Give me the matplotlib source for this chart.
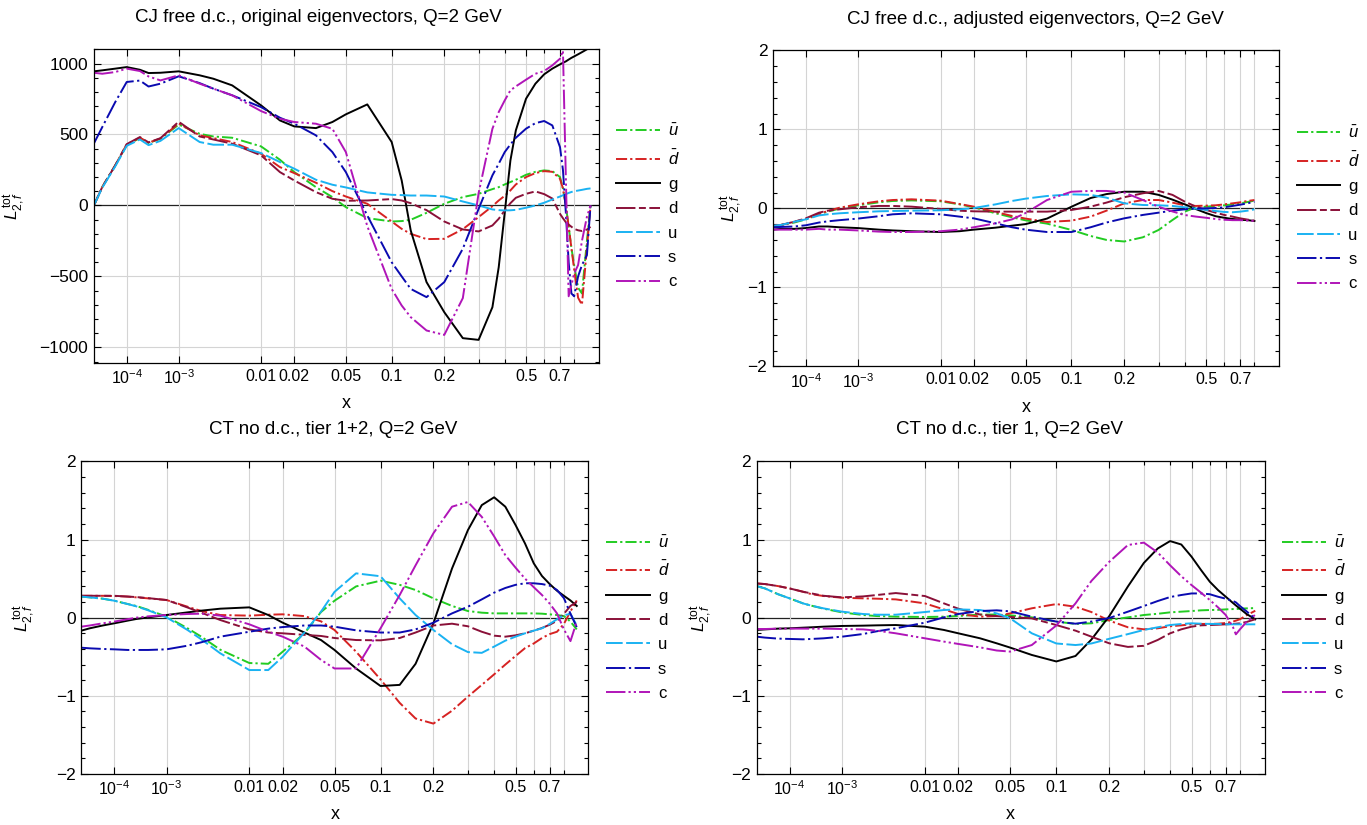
import numpy as np
import matplotlib.pyplot as plt

plt.rcParams['font.family'] = ['Liberation Sans', 'DejaVu Sans']
plt.rcParams['mathtext.fontset'] = 'custom'
plt.rcParams['mathtext.rm'] = 'Liberation Sans'
plt.rcParams['mathtext.it'] = 'Liberation Sans:italic'
plt.rcParams['mathtext.bf'] = 'Liberation Sans:bold'
plt.rcParams['lines.scale_dashes'] = False

# ---- data (x, then one list per parton) ----
x_tl = [1e-5, 2e-5, 5e-5, 1e-4, 2e-4, 3e-4, 5e-4, 1e-3, 2e-3, 3e-3, 5e-3, 0.01, 0.015, 0.02,
        0.03, 0.04, 0.05, 0.07, 0.1, 0.115, 0.13, 0.16, 0.2, 0.25, 0.3, 0.35, 0.375, 0.4, 0.425,
        0.45, 0.5, 0.55, 0.6, 0.65, 0.7, 0.72, 0.74, 0.76, 0.78, 0.8, 0.83, 0.86, 0.9, 0.93]
tl_ubar = [0, 130, 282, 425, 475, 440, 470, 570, 505, 486, 477, 416, 322, 235, 129, 59, -12, -89,
           -113, -110, -101, -52, 12, 59, 82, 115, 129, 148, 165, 181, 216, 237, 247, 242, 200,
           120, 0, -150, -300, -420, -580, -620, -250, 0]
tl_dbar = [0, 130, 282, 430, 478, 442, 472, 578, 494, 475, 447, 364, 270, 228, 160, 101, 63, 12,
           -113, -165, -200, -237, -235, -167, -82, -5, 35, 68, 106, 148, 200, 228, 242, 237, 188,
           120, 0, -150, -300, -450, -650, -700, -300, 0]
tl_g = [945, 952, 964, 975, 956, 933, 935, 945, 917, 893, 846, 705, 599, 557, 545, 588, 642, 712,
        447, 176, -176, -540, -752, -935, -947, -717, -435, -52, 317, 529, 752, 858, 924, 964, 994,
        1005, 1015, 1028, 1040, 1050, 1065, 1080, 1100, 1120]
tl_d = [0, 130, 282, 432, 482, 444, 474, 590, 486, 465, 435, 353, 235, 176, 94, 47, 33, 35, 45, 35,
        16, -33, -113, -169, -183, -141, -94, -35, 16, 54, 82, 99, 80, 49, -59, -90, -118, -135,
        -150, -165, -175, -180, -170, -150]
tl_u = [0, 125, 275, 420, 465, 425, 455, 545, 447, 428, 428, 369, 306, 259, 181, 146, 127, 92, 75,
        73, 70, 70, 63, 28, 0, -28, -33, -35, -34, -31, -16, 0, 19, 42, 63, 72, 80, 88, 95, 100,
        105, 110, 117, 120]
tl_s = [437, 552, 728, 870, 880, 838, 858, 910, 862, 823, 776, 693, 618, 576, 494, 376, 235, -71,
        -400, -500, -588, -646, -540, -305, -24, 212, 294, 376, 430, 477, 541, 580, 595, 564, 411,
        250, -50, -400, -620, -640, -500, -420, -350, 0]
tl_c = [935, 928, 940, 964, 947, 909, 881, 917, 858, 823, 776, 665, 611, 588, 576, 540, 376, -146,
        -588, -705, -787, -881, -912, -653, 87, 540, 658, 740, 811, 839, 886, 928, 947, 987, 1034,
        1090, 200, -640, -560, -480, -420, -250, -80, 0]

x_tr = [1e-5, 2e-5, 5e-5, 1e-4, 2e-4, 3e-4, 5e-4, 1e-3, 2e-3, 3e-3, 5e-3, 0.01, 0.015, 0.02,
        0.03, 0.04, 0.05, 0.07, 0.1, 0.13, 0.16, 0.2, 0.25, 0.3, 0.35, 0.4, 0.45, 0.5, 0.55, 0.6,
        0.65, 0.7, 0.75, 0.8]
tr_ubar = [-0.23, -0.21, -0.18, -0.14, -0.076, -0.042, -0.004, 0.038, 0.076, 0.093, 0.10, 0.089,
           0.05, 0.013, -0.063, -0.114, -0.152, -0.194, -0.274, -0.35, -0.40, -0.42, -0.367,
           -0.274, -0.148, -0.042, 0.013, 0.021, 0.03, 0.038, 0.05, 0.063, 0.08, 0.097]
tr_dbar = [-0.22, -0.21, -0.17, -0.135, -0.072, -0.034, 0.008, 0.05, 0.089, 0.105, 0.114, 0.097,
           0.055, 0.021, -0.046, -0.097, -0.13, -0.173, -0.156, -0.105, -0.03, 0.063, 0.105,
           0.105, 0.072, 0.038, 0.03, 0.034, 0.038, 0.05, 0.063, 0.076, 0.093, 0.105]
tr_g = [-0.27, -0.26, -0.26, -0.25, -0.23, -0.23, -0.24, -0.25, -0.27, -0.28, -0.29, -0.30, -0.29,
        -0.27, -0.245, -0.22, -0.20, -0.13, 0.02, 0.13, 0.18, 0.21, 0.21, 0.17, 0.11, 0.05, -0.01,
        -0.06, -0.10, -0.12, -0.135, -0.145, -0.15, -0.16]
tr_d = [-0.22, -0.21, -0.17, -0.127, -0.055, -0.03, -0.013, 0.013, 0.03, 0.03, 0.021, -0.008,
        -0.03, -0.038, -0.042, -0.042, -0.042, -0.042, -0.021, 0.021, 0.072, 0.14, 0.19, 0.22,
        0.17, 0.084, 0.021, -0.021, -0.055, -0.084, -0.105, -0.127, -0.143, -0.156]
tr_u = [-0.22, -0.21, -0.17, -0.14, -0.09, -0.076, -0.063, -0.05, -0.038, -0.034, -0.03, -0.025,
        -0.013, 0.004, 0.05, 0.093, 0.122, 0.156, 0.177, 0.17, 0.135, 0.063, 0.042, 0.038, 0.03,
        0.013, -0.004, -0.02, -0.034, -0.046, -0.05, -0.042, -0.03, -0.013]
tr_s = [-0.24, -0.236, -0.23, -0.215, -0.18, -0.165, -0.15, -0.13, -0.10, -0.076, -0.063, -0.076,
        -0.105, -0.127, -0.19, -0.24, -0.27, -0.30, -0.30, -0.24, -0.18, -0.127, -0.084, -0.055,
        -0.03, -0.013, -0.004, 0.0, 0.004, 0.013, 0.03, 0.046, 0.063, 0.084]
tr_c = [-0.27, -0.27, -0.27, -0.27, -0.26, -0.27, -0.27, -0.28, -0.295, -0.30, -0.30, -0.29, -0.27,
        -0.24, -0.19, -0.14, -0.06, 0.105, 0.21, 0.22, 0.22, 0.20, 0.105, 0.02, -0.04, -0.085,
        -0.105, -0.12, -0.135, -0.145, -0.15, -0.15, -0.155, -0.16]

x_bl = [1e-5, 2e-5, 5e-5, 1e-4, 2e-4, 3e-4, 5e-4, 1e-3, 2e-3, 3e-3, 5e-3, 0.01, 0.015, 0.02,
        0.03, 0.04, 0.05, 0.07, 0.1, 0.13, 0.16, 0.2, 0.25, 0.3, 0.35, 0.4, 0.45, 0.5, 0.55, 0.6,
        0.65, 0.7, 0.75, 0.8, 0.85, 0.9]
bl_ubar = [0.27, 0.26, 0.243, 0.217, 0.175, 0.15, 0.10, 0.013, -0.136, -0.243, -0.41, -0.58,
           -0.59, -0.435, -0.2, 0.072, 0.217, 0.40, 0.473, 0.42, 0.354, 0.247, 0.15, 0.085, 0.064,
           0.055, 0.055, 0.055, 0.055, 0.055, 0.051, 0.043, 0.034, 0.02, -0.05, -0.15]
bl_dbar = [0.28, 0.28, 0.28, 0.277, 0.27, 0.26, 0.247, 0.226, 0.14, 0.085, 0.034, 0.026, 0.038,
           0.043, 0.02, -0.047, -0.158, -0.435, -0.79, -1.09, -1.29, -1.355, -1.19, -1.01, -0.86,
           -0.725, -0.6, -0.49, -0.39, -0.33, -0.26, -0.21, -0.18, -0.08, 0.08, 0.22]
bl_g = [-0.166, -0.136, -0.1, -0.072, -0.038, -0.017, 0.004, 0.034, 0.068, 0.09, 0.115, 0.132,
        0.034, -0.064, -0.19, -0.286, -0.413, -0.65, -0.874, -0.86, -0.59, -0.072, 0.63, 1.12,
        1.44, 1.54, 1.42, 1.185, 0.95, 0.695, 0.533, 0.43, 0.345, 0.28, 0.22, 0.15]
bl_d = [0.28, 0.28, 0.28, 0.28, 0.27, 0.264, 0.25, 0.226, 0.13, 0.064, -0.03, -0.15, -0.19, -0.2,
        -0.22, -0.234, -0.26, -0.286, -0.29, -0.26, -0.19, -0.1, -0.077, -0.11, -0.18, -0.23,
        -0.243, -0.226, -0.2, -0.166, -0.132, -0.09, -0.04, 0.05, 0.15, 0.2]
bl_u = [0.27, 0.26, 0.243, 0.217, 0.175, 0.145, 0.094, 0.004, -0.158, -0.277, -0.456, -0.67,
        -0.67, -0.5, -0.19, 0.077, 0.33, 0.567, 0.53, 0.247, 0.034, -0.158, -0.34, -0.44, -0.45,
        -0.37, -0.294, -0.243, -0.2, -0.166, -0.136, -0.08, -0.02, 0.03, 0.05, -0.1]
bl_s = [-0.384, -0.392, -0.4, -0.405, -0.413, -0.413, -0.413, -0.405, -0.358, -0.315, -0.243,
        -0.18, -0.14, -0.12, -0.1, -0.1, -0.115, -0.162, -0.19, -0.19, -0.15, -0.064, 0.055, 0.14,
        0.234, 0.32, 0.38, 0.42, 0.44, 0.44, 0.43, 0.41, 0.354, 0.25, 0.05, -0.12]
bl_c = [-0.115, -0.1, -0.072, -0.05, -0.02, 0.0, 0.017, 0.034, 0.047, 0.051, 0.026, -0.085, -0.18,
        -0.243, -0.37, -0.54, -0.65, -0.65, -0.136, 0.29, 0.67, 1.08, 1.42, 1.48, 1.29, 1.04, 0.8,
        0.64, 0.5, 0.39, 0.29, 0.18, 0.055, -0.15, -0.3, -0.05]

x_br = [1e-5, 2e-5, 5e-5, 1e-4, 2e-4, 3e-4, 5e-4, 1e-3, 2e-3, 3e-3, 5e-3, 0.01, 0.015, 0.02,
        0.03, 0.04, 0.05, 0.07, 0.1, 0.13, 0.16, 0.2, 0.25, 0.3, 0.35, 0.4, 0.45, 0.5, 0.55, 0.6,
        0.65, 0.7, 0.75, 0.77, 0.8, 0.85, 0.92]
br_ubar = [0.404, 0.374, 0.30, 0.247, 0.183, 0.153, 0.115, 0.068, 0.034, 0.021, 0.013, 0.009,
           0.013, 0.021, 0.04, 0.04, 0.03, 0.004, -0.05, -0.08, -0.072, -0.03, 0.004, 0.034, 0.05,
           0.068, 0.077, 0.085, 0.094, 0.098, 0.10, 0.106, 0.11, 0.11, 0.115, 0.119, 0.123]
br_dbar = [0.438, 0.43, 0.404, 0.374, 0.332, 0.30, 0.277, 0.255, 0.247, 0.243, 0.234, 0.183,
           0.106, 0.047, 0.013, 0.021, 0.055, 0.12, 0.174, 0.14, 0.072, -0.038, -0.123, -0.149,
           -0.136, -0.11, -0.098, -0.085, -0.08, -0.08, -0.077, -0.068, -0.05, -0.038, -0.02,
           0.03, 0.089]
br_g = [-0.157, -0.15, -0.14, -0.136, -0.128, -0.123, -0.115, -0.106, -0.102, -0.098, -0.094,
        -0.115, -0.157, -0.2, -0.264, -0.328, -0.383, -0.477, -0.56, -0.49, -0.28, 0.02, 0.40,
        0.70, 0.885, 0.98, 0.936, 0.78, 0.61, 0.46, 0.353, 0.268, 0.187, 0.157, 0.115, 0.047,
        -0.02]
br_d = [0.438, 0.43, 0.404, 0.374, 0.332, 0.31, 0.28, 0.26, 0.272, 0.29, 0.315, 0.277, 0.183,
        0.115, 0.04, 0.02, 0.01, -0.009, -0.094, -0.166, -0.243, -0.328, -0.374, -0.36, -0.285,
        -0.2, -0.149, -0.115, -0.098, -0.094, -0.09, -0.085, -0.081, -0.077, -0.072, -0.055, -0.02]
br_u = [0.404, 0.374, 0.30, 0.247, 0.183, 0.153, 0.119, 0.077, 0.047, 0.038, 0.038, 0.072, 0.098,
        0.106, 0.098, 0.055, -0.009, -0.2, -0.33, -0.35, -0.33, -0.27, -0.21, -0.157, -0.123,
        -0.094, -0.081, -0.072, -0.077, -0.08, -0.08, -0.085, -0.085, -0.085, -0.085, -0.085,
        -0.085]
br_s = [-0.243, -0.255, -0.268, -0.272, -0.277, -0.272, -0.264, -0.243, -0.209, -0.174, -0.136,
        -0.064, 0.004, 0.047, 0.085, 0.094, 0.081, 0.013, -0.05, -0.077, -0.05, -0.004, 0.077,
        0.149, 0.213, 0.264, 0.29, 0.31, 0.31, 0.30, 0.268, 0.243, 0.213, 0.196, 0.149, 0.081,
        -0.013]
br_c = [-0.145, -0.145, -0.14, -0.14, -0.14, -0.14, -0.14, -0.145, -0.15, -0.166, -0.2, -0.264,
        -0.306, -0.336, -0.38, -0.42, -0.434, -0.35, -0.1, 0.183, 0.47, 0.715, 0.93, 0.96, 0.834,
        0.67, 0.53, 0.417, 0.32, 0.226, 0.132, 0.034, -0.123, -0.213, -0.149, -0.055, 0.038]

labels = [r'$\bar{u}$', r'$\bar{d}$', 'g', 'd', 'u', 's', 'c']
colors = ['#22cc22', '#d62222', '#000000', '#8a1038', '#1ab2f2', '#0a0ab0', '#b015b8']
styles = [(0, (8, 2.2, 1.6, 2.2)), (0, (8, 2.2, 1.6, 2.2)), '-', (0, (14, 2.5, 5, 2.5)),
          (0, (12, 2.5)), (0, (14, 2.5, 1.6, 2.5)), (0, (14, 2.2, 1.6, 2.2, 1.6, 2.2))]

xt_major = [1e-4, 1e-3, 0.01, 0.02, 0.05, 0.1, 0.2, 0.5, 0.7]
xt_labels = [r'$10^{-4}$', r'$10^{-3}$', '0.01', '0.02', '0.05', '0.1', '0.2', '0.5', '0.7']
xt_minor = [0.3, 0.4, 0.6, 0.8]


def fwd(x):
    return np.power(np.clip(x, 0, None), 0.2)


def inv(t):
    return np.power(np.clip(t, 0, None), 5)


def draw_panel(rect, xs, ys, title, title_xy, ylim, ymajor, yminor, ylab_x):
    ax = fig.add_axes(rect)
    ax.set_xscale('function', functions=(fwd, inv))
    ax.grid(True, which='both', axis='x', color='#d4d4d4', lw=0.8, zorder=0)
    for yv in ymajor:
        if yv != 0:
            ax.axhline(yv, color='#d4d4d4', lw=0.8, zorder=0)
    ax.axhline(0, color='#222222', lw=0.9, zorder=1)
    handles = []
    for y, lab, col, ls in zip(ys, labels, colors, styles):
        h, = ax.plot(xs, y, color=col, ls=ls, lw=1.4, label=lab, zorder=2)
        handles.append(h)
    ax.set_xlim(1e-5, 1.0)
    ax.set_ylim(*ylim)
    ax.set_xticks(xt_major, xt_labels)
    ax.set_xticks(xt_minor, minor=True)
    ax.xaxis.set_minor_formatter(plt.NullFormatter())
    ax.set_yticks(ymajor)
    ax.set_yticks(yminor, minor=True)
    ax.tick_params(which='both', direction='in', top=True, right=True,
                   width=0.8, colors='black')
    ax.tick_params(axis='x', labelsize=11.5)
    ax.tick_params(axis='y', labelsize=12.5)
    ax.tick_params(which='major', length=5, pad=4)
    ax.tick_params(which='minor', length=3)
    for sp in ax.spines.values():
        sp.set_linewidth(0.9)
    ax.set_xlabel('x', fontsize=13)
    ax.xaxis.set_label_coords(0.5, -0.103)
    ax.set_ylabel(r'$L_{2,f}^{\,\mathrm{tot}}$', fontsize=12.5)
    ax.yaxis.set_label_coords(ylab_x, 0.5)
    ax.legend(handles=handles, loc='center left', bbox_to_anchor=(1.035, 0.5), frameon=False,
              fontsize=12, handlelength=2.6, handletextpad=0.5, labelspacing=0.56,
              borderpad=0, borderaxespad=0)
    fig.text(title_xy[0] / 1367, 1 - title_xy[1] / 825, title, ha='center', va='center',
             fontsize=13.5)
    return ax


fig = plt.figure(figsize=(13.67, 8.25), dpi=100)

ymaj_small = [-2, -1, 0, 1, 2]
ymin_small = list(np.round(np.arange(-2, 2.01, 0.2), 1))

draw_panel([0.0687, 0.56, 0.3692, 0.3802], x_tl,
           [tl_ubar, tl_dbar, tl_g, tl_d, tl_u, tl_s, tl_c],
           'CJ free d.c., original eigenvectors, Q=2 GeV', (318, 18),
           (-1110, 1100), [-1000, -500, 0, 500, 1000], list(range(-1100, 1101, 100)), -0.133)
draw_panel([0.5654, 0.556, 0.3702, 0.383], x_tr,
           [tr_ubar, tr_dbar, tr_g, tr_d, tr_u, tr_s, tr_c],
           'CJ free d.c., adjusted eigenvectors, Q=2 GeV', (1035, 19),
           (-2, 2), ymaj_small, ymin_small, -0.057)
draw_panel([0.0595, 0.0618, 0.371, 0.379], x_bl,
           [bl_ubar, bl_dbar, bl_g, bl_d, bl_u, bl_s, bl_c],
           'CT no d.c., tier 1+2, Q=2 GeV', (333, 430),
           (-2, 2), ymaj_small, ymin_small, -0.088)
draw_panel([0.5535, 0.0618, 0.3716, 0.379], x_br,
           [br_ubar, br_dbar, br_g, br_d, br_u, br_s, br_c],
           'CT no d.c., tier 1, Q=2 GeV', (1009, 430),
           (-2, 2), ymaj_small, ymin_small, -0.084)

fig.savefig('out.png', dpi=100)
